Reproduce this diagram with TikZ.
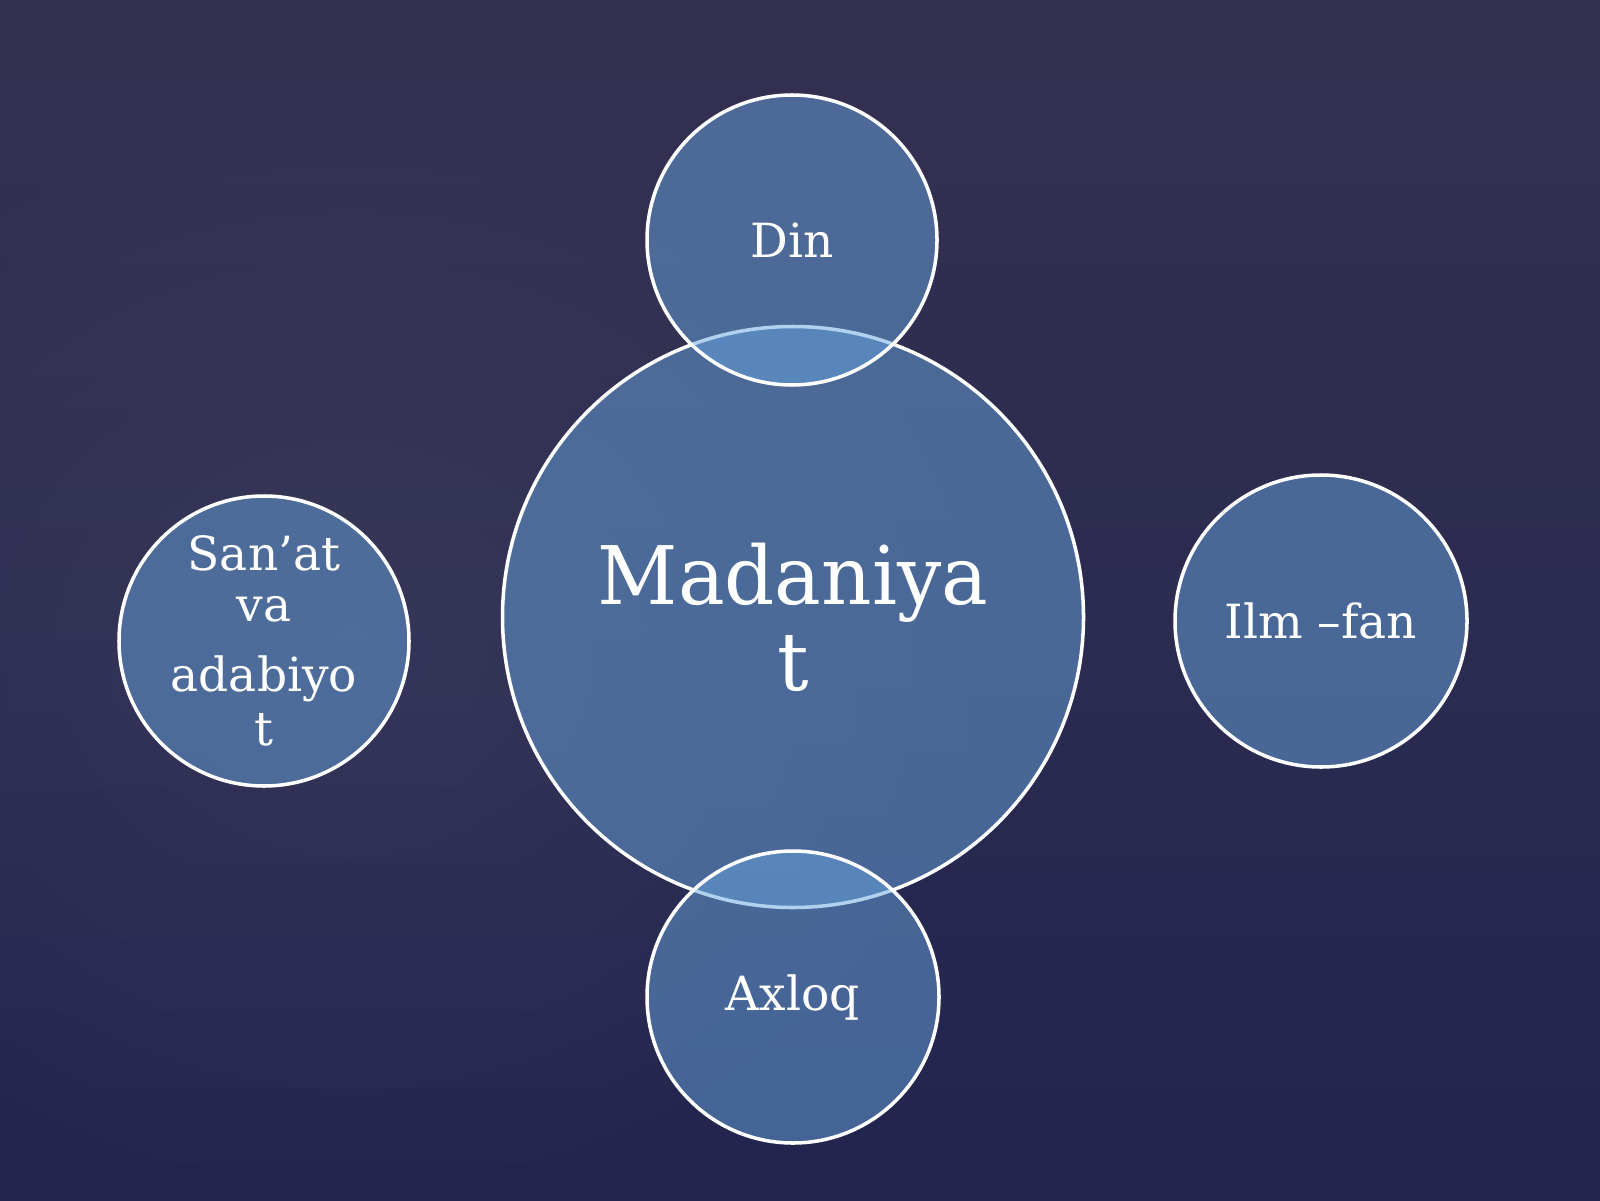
\documentclass[tikz,border=0pt]{standalone}
\usepackage{fontspec}
\usetikzlibrary{fadings}
\setmainfont{DejaVu Serif}
\newfontfamily\bigserif{DejaVu Serif}[FakeStretch=0.97]
\definecolor{bgtop}{RGB}{52,48,80}
\definecolor{bgmid}{RGB}{44,44,80}
\definecolor{bgbot}{RGB}{34,36,78}
\definecolor{circfill}{RGB}{103,164,222}
\tikzfading[name=softglow, inner color=transparent!0, outer color=transparent!100]
\tikzset{
  bubble/.style={circle, draw=white, line width=1pt, fill=circfill, fill opacity=0.5, text opacity=1, text=white, inner sep=0pt, align=center},
  smalltxt/.style={font=\fontsize{13.4}{14.5}\selectfont},
  bigtxt/.style={font=\bigserif\fontsize{23}{24.5}\selectfont}
}
\begin{document}
\begin{tikzpicture}
\useasboundingbox (0,0) rectangle (16,12);
\shade[top color=bgtop, bottom color=bgbot, middle color=bgmid] (0,0) rectangle (16,12);
\fill[white, opacity=0.05, path fading=softglow] (3.5,5.5) ellipse (7 and 6);
\node[bubble, bigtxt, minimum size=5.81cm] (mad) at (7.93,5.83) {Madaniya\\t};
\node[bubble, smalltxt, minimum size=2.90cm] (din) at (7.92,9.60) {Din};
\node[bubble, smalltxt, minimum size=2.92cm] (axl) at (7.93,2.03) {Axloq};
\node[bubble, smalltxt, minimum size=2.92cm] (ilm) at (13.21,5.79) {Ilm –fan};
\node[bubble, smalltxt, minimum size=2.90cm] (san) at (2.64,5.59) {San’at\\va\\[5.4pt]adabiyo\\[0.9pt]t};
\end{tikzpicture}
\end{document}
